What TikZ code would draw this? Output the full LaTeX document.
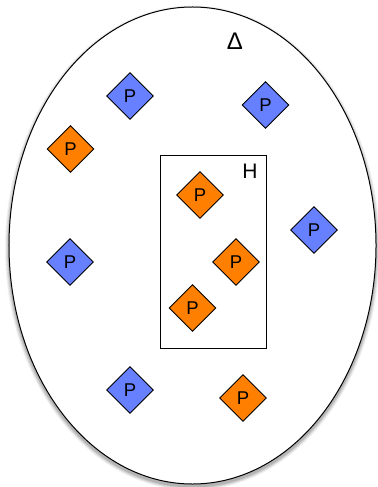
\documentclass[tikz,border=0pt]{standalone}
\usepackage{fontspec}
\setmainfont{Liberation Sans}
\usetikzlibrary{shapes.geometric}
\definecolor{pblue}{RGB}{102,128,255}
\definecolor{porange}{RGB}{255,128,0}
\tikzset{
  pd/.style={diamond, draw=black, line width=0.9bp, inner sep=0pt, minimum width=47bp, minimum height=47bp, font=\fontsize{18.5bp}{20bp}\selectfont},
  pb/.style={pd, fill=pblue},
  po/.style={pd, fill=porange},
}
\begin{document}
\begin{tikzpicture}[x=1bp,y=-1bp]
\useasboundingbox (0,0) rectangle (377,487);
% shadow
\foreach \s/\o in {4/0.05,3/0.07,2/0.09,1/0.12}{
  \fill[black,opacity=\o] (192.5,248) ellipse [x radius=183.5+\s, y radius=238.5+\s];
}
\node[ellipse, draw=black, fill=white, line width=1bp, minimum width=367bp, minimum height=477bp, inner sep=0pt] (delta) at (192.5,245.5) {};
\node[font=\fontsize{24bp}{26bp}\selectfont] (dl) at (235,41) {Δ};
\node[draw=black, line width=0.9bp, minimum width=106.5bp, minimum height=192.5bp, inner sep=0pt] (H) at (213.3,252) {};
\node[font=\fontsize{21bp}{24bp}\selectfont] (hl) at (250,171) {H};
\node[pb] (b1) at (130,96) {P};
\node[pb] (b2) at (265.5,105) {P};
\node[po] (o1) at (70.5,149) {P};
\node[po] (o2) at (200,195) {P};
\node[pb] (b3) at (314,230) {P};
\node[pb] (b4) at (70,262) {P};
\node[po] (o3) at (236,262) {P};
\node[po] (o4) at (192.5,308) {P};
\node[pb] (b5) at (130,390) {P};
\node[po] (o5) at (243,398) {P};
\end{tikzpicture}
\end{document}
